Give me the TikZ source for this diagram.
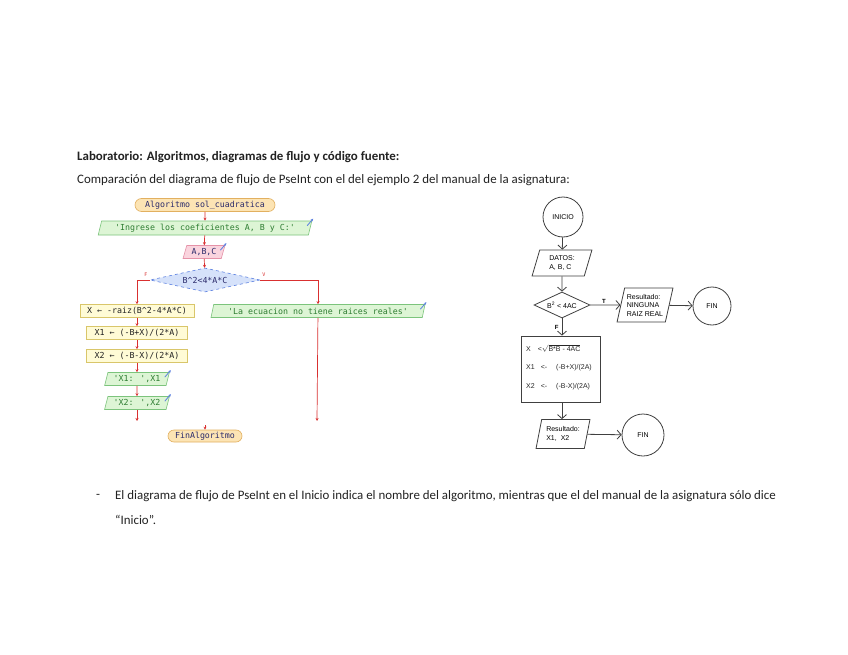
\documentclass[tikz,border=0pt]{standalone}
\usepackage{fontspec}
\setmainfont{Carlito}
\newfontfamily\monof{DejaVu Sans Mono}
\newfontfamily\arialf{Liberation Sans}
\usetikzlibrary{shapes.geometric,shapes.misc,arrows.meta}
\definecolor{oF}{HTML}{FCE4B4}\definecolor{oD}{HTML}{E2B060}
\definecolor{gF}{HTML}{DDF5D5}\definecolor{gD}{HTML}{7CC47C}
\definecolor{kF}{HTML}{FAD4DE}\definecolor{kD}{HTML}{E592A8}
\definecolor{bF}{HTML}{D6E2FA}\definecolor{bD}{HTML}{5A7FE0}
\definecolor{yF}{HTML}{FFFBD6}\definecolor{yD}{HTML}{D9C66A}
\definecolor{pred}{HTML}{D93030}
\definecolor{navy}{HTML}{2B2B6B}
\definecolor{gT}{HTML}{2E7D32}
\definecolor{txt}{HTML}{222222}
\tikzset{
  doc/.style={anchor=west,inner sep=0pt,font=\fontsize{12.9}{15}\selectfont,text=txt},
  pbase/.style={inner sep=0pt,font=\monof\fontsize{8.3}{9}\selectfont,line width=0.6pt},
  pstart/.style={pbase,rounded rectangle,fill=oF,draw=oD,text=navy,minimum height=13pt},
  pout/.style={pbase,trapezium,trapezium left angle=70,trapezium right angle=110,trapezium stretches=true,fill=gF,draw=gD,text=gT,minimum height=14pt},
  pin/.style={pout,fill=kF,draw=kD,text=navy},
  pdec/.style={pbase,diamond,aspect=4.6,fill=bF,draw=bD,dashed,text=navy,minimum width=110pt,minimum height=24pt},
  pproc/.style={pbase,rectangle,fill=yF,draw=yD,text=txt,minimum height=13pt},
  parr/.style={draw=pred,line width=0.7pt,-{Stealth[length=3pt,width=3pt]}},
  plabel/.style={text=pred,font=\monof\fontsize{5}{5}\selectfont,inner sep=0pt},
  bicon/.style={draw=bD,line width=0.8pt,-{Stealth[length=2.5pt,width=2.5pt]}},
  rbase/.style={draw=black!75,line width=0.8pt,inner sep=0pt,font=\arialf\fontsize{7}{8.5}\selectfont,align=left},
  rcirc/.style={rbase,circle,align=center},
  rpara/.style={rbase,trapezium,trapezium left angle=73,trapezium right angle=107,trapezium stretches=true},
  rdec/.style={rbase,diamond,aspect=2.2,minimum width=56pt,minimum height=26pt,align=center},
  rbox/.style={rbase,rectangle},
  rarr/.style={draw=black!75,line width=0.8pt,-{Straight Barb[length=4pt,width=9pt]}},
  rtext/.style={inner sep=0pt,font=\arialf\fontsize{7}{8.5}\selectfont,text=black!85,anchor=west}
}
\begin{document}
\begin{tikzpicture}[x=1pt,y=-1pt]
\useasboundingbox[fill=white] (0,0) rectangle (848,655);
% document text
\node[doc,font=\bfseries\fontsize{12.9}{15}\selectfont] (title) at (77,157) {Laboratorio: Algoritmos, diagramas de flujo y código fuente:};
\node[doc] (intro) at (77,180) {Comparación del diagrama de flujo de PseInt con el del ejemplo 2 del manual de la asignatura:};
\node[doc] (dash) at (96,496) {-};
\node[doc] (bul1) at (115,496) {El diagrama de flujo de PseInt en el Inicio indica el nombre del algoritmo, mientras que el del manual de la asignatura sólo dice};
\node[doc] (bul2) at (115,520) {“Inicio”.};

% PSeInt flowchart
\node[pstart,minimum width=140pt] (alg) at (205,205) {Algoritmo sol\_cuadratica};
\node[pout,minimum width=214pt] (ing) at (205,228) {'Ingrese los coeficientes A, B y C:'};
\node[pin,minimum width=42pt,minimum height=13pt] (abc) at (204,252) {A,B,C};
\node[pdec] (dec) at (205,280) {B\textasciicircum2<4*A*C};
\node[pproc,minimum width=114pt] (xr) at (137,311) {X ← -raiz(B\textasciicircum2-4*A*C)};
\node[pout,minimum width=214pt,minimum height=13pt] (ecu) at (318,311) {'La ecuacion no tiene raices reales'};
\node[pproc,minimum width=101pt] (x1) at (137,333) {X1 ← (-B+X)/(2*A)};
\node[pproc,minimum width=101pt] (x2) at (137,356) {X2 ← (-B-X)/(2*A)};
\node[pout,minimum width=65pt,minimum height=13pt] (o1) at (137,379) {'X1: ',X1};
\node[pout,minimum width=65pt,minimum height=13pt] (o2) at (137,403) {'X2: ',X2};
\node[pstart,minimum width=74pt,minimum height=12pt] (pfin) at (205,436) {FinAlgoritmo};
\coordinate (lend) at (137,421);
\coordinate (rend) at (317,421);
\coordinate (fintop) at (205,425);

\draw[parr] (alg) -- (ing);
\draw[parr] (ing) -- (abc);
\draw[parr] (abc) -- (dec);
\draw[parr] (dec.west) -| (xr.north);
\draw[parr] (dec.east) -| (ecu.north);
\draw[parr] (xr) -- (x1);
\draw[parr] (x1) -- (x2);
\draw[parr] (x2) -- (o1);
\draw[parr] (o1) -- (o2);
\draw[parr] (o2) -- (lend);
\draw[parr] (ecu) -- (rend);
\draw[parr] (fintop) -- (pfin);
\node[plabel] (lf) at (146,275) {F};
\node[plabel] (lv) at (264,275) {V};
\draw[bicon] ([xshift=-5pt,yshift=-5pt]ing.top right corner) -- ++(6,-7);
\draw[bicon] ([xshift=-5pt,yshift=-5pt]abc.top right corner) -- ++(6,-7);
\draw[bicon] ([xshift=-5pt,yshift=-5pt]ecu.top right corner) -- ++(6,-7);
\draw[bicon] ([xshift=-5pt,yshift=-5pt]o1.top right corner) -- ++(6,-7);
\draw[bicon] ([xshift=-5pt,yshift=-5pt]o2.top right corner) -- ++(6,-7);

% textbook flowchart
\node[rcirc,minimum size=40pt] (ini) at (563,217) {INICIO};
\node[rpara,minimum width=60pt,minimum height=26pt] (datos) at (562,263) {DATOS:\\A, B, C};
\node[rdec] (rd) at (562,305) {B\textsuperscript{2} < 4AC};
\node[rpara,minimum width=56pt,minimum height=34pt] (res1) at (645,305) {Resultado:\\NINGUNA\\RAIZ REAL};
\node[rcirc,minimum size=38pt] (fin1) at (712,306) {FIN};
\node[rbox,minimum width=79pt,minimum height=66pt] (box) at (560.5,369) {};
\node[rtext] (l1) at (526,348) {X\hspace{7pt}<$\sqrt{\mbox{B*B - 4AC}}$};
\node[rtext] (l2) at (526,368) {X1\hspace{6pt}<-\hspace{9pt}(-B+X)/(2A)};
\node[rtext] (l3) at (526,387) {X2\hspace{6pt}<-\hspace{9pt}(-B-X)/(2A)};
\node[rpara,minimum width=54pt,minimum height=29pt] (res2) at (563,434) {Resultado:\\X1,\hspace{4pt}X2};
\node[rcirc,minimum size=42pt] (fin2) at (643,435) {FIN};

\draw[rarr] (ini) -- (datos);
\draw[rarr] (datos) -- (rd);
\draw[rarr] (rd) -- node[above,pos=0.45,inner sep=1.5pt,font=\arialf\bfseries\fontsize{6}{6}\selectfont] (tlab) {T} (res1);
\draw[rarr] (res1) -- (fin1);
\draw[rarr] (rd.south) -- node[left,pos=0.5,inner sep=3pt,font=\arialf\bfseries\fontsize{6}{6}\selectfont] (flab) {F} (rd.south |- box.north);
\draw[rarr] (rd.south |- box.south) -- (rd.south |- res2.north);
\draw[rarr] (res2) -- (fin2);
\end{tikzpicture}
\end{document}
